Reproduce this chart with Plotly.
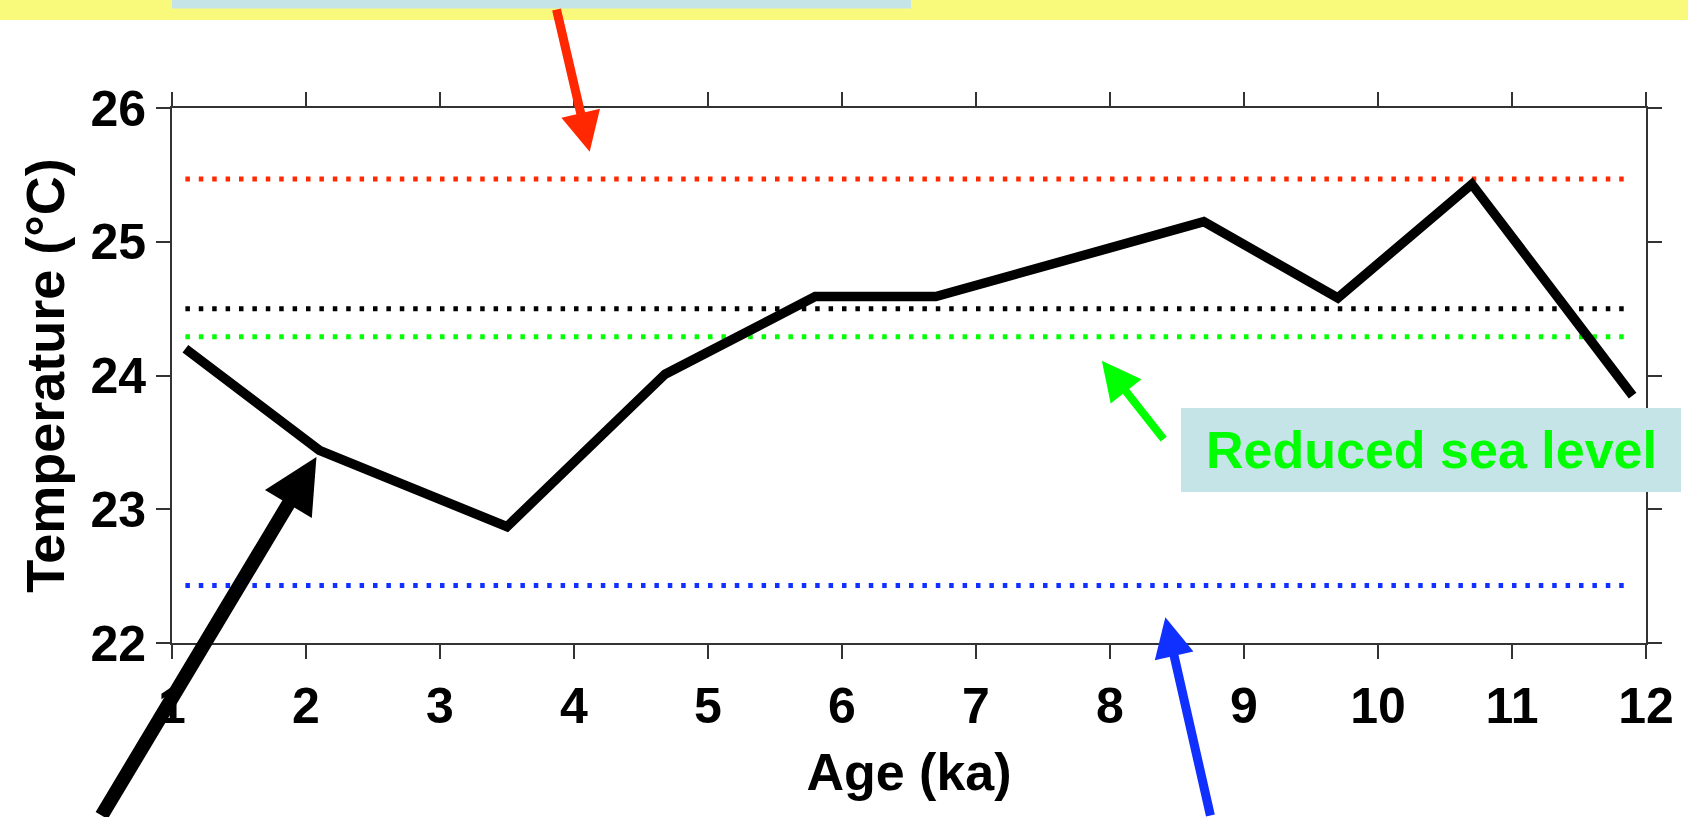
import plotly.graph_objects as go

# Reconstructed temperature record
age_ka = [1.1, 2.1, 3.5, 4.68, 5.8, 6.7, 8.7, 9.7, 10.7, 11.9]
temperature_c = [24.2, 23.44, 22.87, 24.01, 24.59, 24.59, 25.15, 24.58, 25.43, 23.85]

# Horizontal reference levels (model scenarios)
level_values = [25.47, 24.5, 24.29, 22.43]
level_colors = ["#FF2800", "#000000", "#00FF00", "#1030FF"]
level_span = [1.1, 11.9]

x_ticks = list(range(1, 13))
y_ticks = [22, 23, 24, 25, 26]

FONT = "Liberation Sans, Arial, Helvetica, sans-serif"

# Figure geometry (pixels)
FIG_W, FIG_H = 1688, 817
M_L, M_R, M_T, M_B = 172, 42, 108, 174
PLOT_W = FIG_W - M_L - M_R
PLOT_H = FIG_H - M_T - M_B


def px_x(px):
    return (px - M_L) / PLOT_W


def px_y(py):
    return (FIG_H - M_B - py) / PLOT_H


fig = go.Figure()

for val, col in zip(level_values, level_colors):
    fig.add_trace(go.Scatter(
        x=level_span, y=[val, val], mode="lines",
        line=dict(color=col, width=5, dash="4.5px,8.9px"),
        hoverinfo="skip", showlegend=False,
    ))

fig.add_trace(go.Scatter(
    x=age_ka, y=temperature_c, mode="lines",
    line=dict(color="black", width=9.5),
    showlegend=False,
))

shapes = [
    # yellow banner strip across the top
    dict(type="rect", xref="paper", yref="paper", layer="above",
         x0=px_x(0), x1=px_x(FIG_W), y0=px_y(20), y1=px_y(0),
         fillcolor="#F9FA7C", line=dict(width=0)),
    # label box inside the banner
    dict(type="rect", xref="paper", yref="paper", layer="above",
         x0=px_x(172), x1=px_x(911), y0=px_y(8.5), y1=px_y(0),
         fillcolor="#C5E4E8", line=dict(width=0)),
    # "Reduced sea level" label box
    dict(type="rect", xref="paper", yref="paper", layer="above",
         x0=px_x(1181), x1=px_x(1681), y0=px_y(492), y1=px_y(408),
         fillcolor="#C5E4E8", line=dict(width=0)),
]

annotations = [
    dict(text="<b>Reduced sea level</b>", xref="paper", yref="paper",
         x=px_x(1431), y=px_y(450), xanchor="center", yanchor="middle",
         showarrow=False, font=dict(family=FONT, size=52, color="#00FF00")),
    # red arrow
    dict(text="", x=4.117, y=25.673, xref="x", yref="y", showarrow=True,
         ax=-33.5, ay=-143.7, arrowhead=2, arrowwidth=9, arrowsize=0.88,
         arrowcolor="#FF2800", standoff=0),
    # black arrow
    dict(text="", x=2.078, y=23.39, xref="x", yref="y", showarrow=True,
         ax=-215.7, ay=373.3, arrowhead=2, arrowwidth=14, arrowsize=0.78,
         arrowcolor="#000000", standoff=0),
    # green arrow
    dict(text="", x=7.939, y=24.111, xref="x", yref="y", showarrow=True,
         ax=63, ay=80, arrowhead=2, arrowwidth=8, arrowsize=0.98,
         arrowcolor="#00FF00", standoff=0),
    # blue arrow
    dict(text="", x=8.413, y=22.192, xref="x", yref="y", showarrow=True,
         ax=45.4, ay=212.7, arrowhead=2, arrowwidth=9, arrowsize=0.88,
         arrowcolor="#1030FF", standoff=0),
]

axis_common = dict(
    showgrid=False, zeroline=False, showline=True, linecolor="#333333",
    linewidth=2, mirror="allticks", ticks="outside", ticklen=14,
    tickwidth=1.5, tickcolor="#333333",
    tickfont=dict(family=FONT, size=50, color="black", weight="bold"),
)

fig.update_layout(
    width=FIG_W, height=FIG_H,
    margin=dict(l=M_L, r=M_R, t=M_T, b=M_B, autoexpand=False),
    paper_bgcolor="white", plot_bgcolor="white",
    xaxis=dict(range=[1, 12], tickvals=x_ticks, ticklabelstandoff=4,
               title=dict(text="<b>Age (ka)</b>", standoff=21,
                          font=dict(family=FONT, size=52, color="black")),
               **axis_common),
    yaxis=dict(range=[22, 26], tickvals=y_ticks, ticklabelstandoff=0,
               title=dict(text="<b>Temperature (°C)</b>", standoff=8,
                          font=dict(family=FONT, size=54, color="black")),
               **axis_common),
    shapes=shapes,
    annotations=annotations,
    showlegend=False,
)

fig.write_html("out.html")
